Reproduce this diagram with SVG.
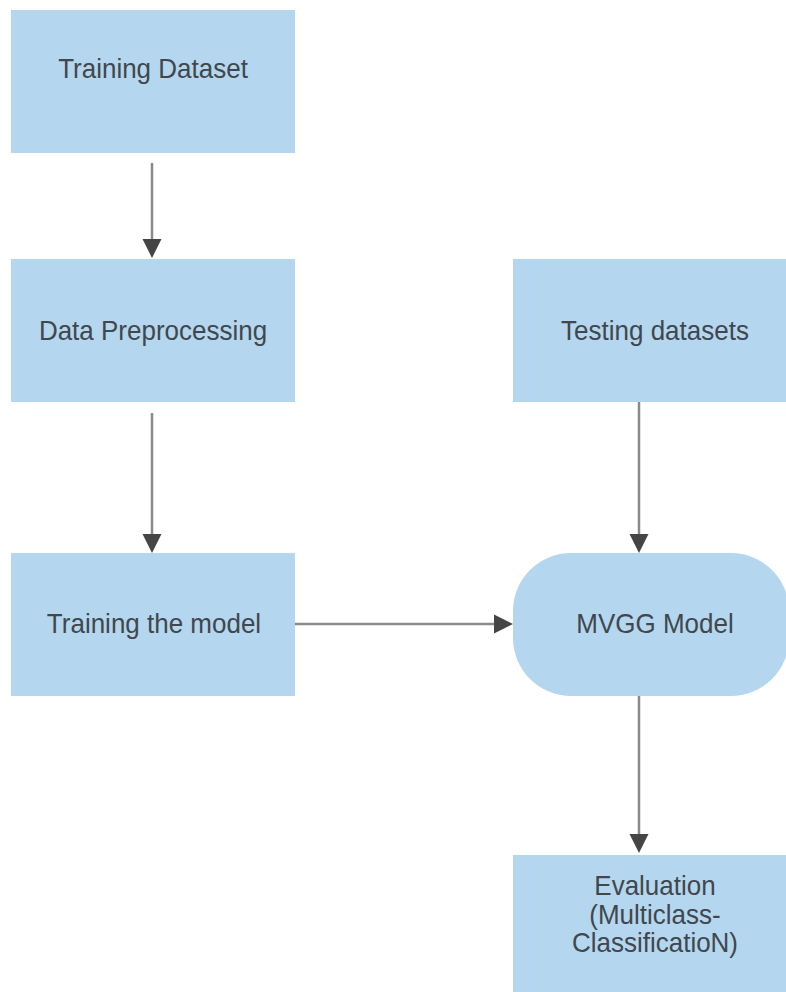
<svg xmlns="http://www.w3.org/2000/svg" width="786" height="992" viewBox="0 0 786 992">
  <style>
    .box { fill: #b4d7ef; }
    .label { font-family: "Liberation Sans", Arial, sans-serif; font-size: 26px; fill: #41474d; text-anchor: middle; }
    .link { stroke: #8a8a8a; stroke-width: 2.5; fill: none; }
    .head { fill: #454545; }
  </style>
  <rect width="786" height="992" fill="#ffffff"/>

  <g id="training-dataset">
    <rect class="box" x="11" y="10" width="284" height="143"/>
    <text class="label" transform="translate(153,78) scale(1,1.08)">Training Dataset</text>
  </g>

  <g id="data-preprocessing">
    <rect class="box" x="11" y="259" width="284" height="143"/>
    <text class="label" transform="translate(153,340) scale(1,1.08)">Data Preprocessing</text>
  </g>

  <g id="training-model">
    <rect class="box" x="11" y="553" width="284" height="143"/>
    <text class="label" transform="translate(154,633) scale(1,1.08)">Training the model</text>
  </g>

  <g id="testing-datasets">
    <rect class="box" x="513" y="259" width="284" height="143"/>
    <text class="label" transform="translate(655,340) scale(1,1.08)">Testing datasets</text>
  </g>

  <g id="mvgg-model">
    <rect class="box" x="513" y="553" width="276" height="143" rx="58" ry="58"/>
    <text class="label" transform="translate(655,633) scale(1,1.08)">MVGG Model</text>
  </g>

  <g id="evaluation">
    <rect class="box" x="513" y="855" width="284" height="150"/>
    <text class="label" transform="translate(655,895) scale(1,1.08)">Evaluation</text>
    <text class="label" transform="translate(655,923.5) scale(1,1.08)">(Multiclass-</text>
    <text class="label" transform="translate(655,952) scale(1,1.08)">ClassificatioN)</text>
  </g>

  <g id="connectors">
    <!-- Training Dataset to Data Preprocessing -->
    <line class="link" x1="152" y1="163" x2="152" y2="242"/>
    <polygon class="head" points="142.5,239 161.5,239 152,258"/>
    <!-- Data Preprocessing to Training the model -->
    <line class="link" x1="152" y1="413" x2="152" y2="536"/>
    <polygon class="head" points="142.5,534 161.5,534 152,553"/>
    <!-- Training the model to MVGG Model -->
    <line class="link" x1="295" y1="624" x2="496" y2="624"/>
    <polygon class="head" points="494,614.5 494,633.5 513,624"/>
    <!-- Testing datasets to MVGG Model -->
    <line class="link" x1="639" y1="402" x2="639" y2="536"/>
    <polygon class="head" points="629.5,534 648.5,534 639,553"/>
    <!-- MVGG Model to Evaluation -->
    <line class="link" x1="639" y1="696" x2="639" y2="836"/>
    <polygon class="head" points="629.5,834 648.5,834 639,853"/>
  </g>
</svg>
